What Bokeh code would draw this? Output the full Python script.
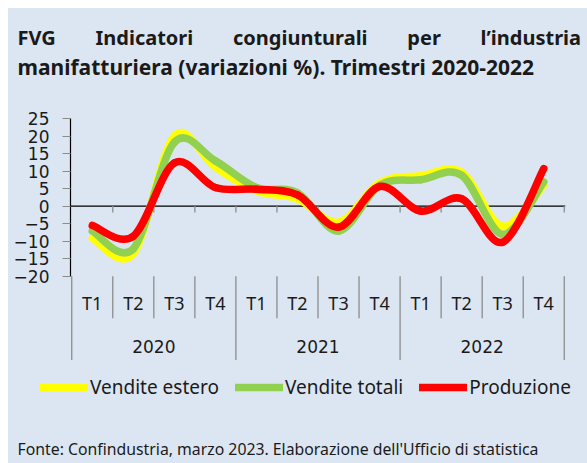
from bokeh.plotting import figure
from bokeh.models import Range1d, FixedTicker, Legend, LegendItem, ColumnDataSource, Span, Spacer
from bokeh.layouts import column, row
from bokeh.embed import file_html
from bokeh.resources import INLINE
from bokeh.core.properties import value

# ---------------- data ----------------
years = ["2020", "2021", "2022"]
quarters = ["T1", "T2", "T3", "T4"]
vendite_estero = [-9.2, -13.6, 20.0, 11.1, 4.3, 2.0, -4.6, 6.6, 8.7, 9.6, -5.8, 5.9]
vendite_totali = [-7.1, -12.2, 18.2, 12.9, 5.3, 3.8, -7.1, 5.9, 7.5, 8.8, -8.1, 6.9]
produzione = [-5.5, -8.6, 12.3, 5.3, 4.8, 3.2, -6.0, 5.6, -1.4, 2.1, -10.3, 10.7]
y_ticks = [-20, -15, -10, -5, 0, 5, 10, 15, 20, 25]
series_names = ["Vendite estero", "Vendite totali", "Produzione"]
series_colors = ["#FFFF00", "#92D050", "#FF0000"]
title_words = ["FVG", "Indicatori", "congiunturali", "per", "l\u2019industria"]
title_line2 = "manifatturiera (variazioni %). Trimestri 2020-2022"
source_text = "Fonte: Confindustria, marzo 2023.  Elaborazione dell'Ufficio di statistica"

BG = "#DCE6F2"
TXT = "#1a1a1a"
W = 579
n = len(years) * len(quarters)
xs = [i + 0.5 for i in range(n)]
Y_CAT_END = -44.06   # bottom of the category axis area
series_values = [vendite_estero, vendite_totali, produzione]


def blank_panel(height, flip=True):
    f = figure(width=W, height=height, output_backend="svg", toolbar_location=None,
               x_range=Range1d(0, W), y_range=Range1d(height, 0) if flip else Range1d(0, height),
               x_axis_type=None, y_axis_type=None,
               min_border=0, background_fill_color=BG, border_fill_color=BG, outline_line_color=None)
    f.grid.visible = False
    f.frame_align = False
    return f


# ---------------- title panel ----------------
p0 = blank_panel(100)
gap = " " + "\u00a0" * 6 + "\u2009"
p0.text(x=[9], y=[29], text=[gap.join(title_words)], text_font=value("Noto Sans"),
        text_font_size="20px", text_font_style="bold", text_color=TXT, text_baseline="middle")
p0.text(x=[9], y=[58], text=[title_line2], text_font=value("Noto Sans"),
        text_font_size="21px", text_font_style="bold", text_color=TXT, text_baseline="middle")

# ---------------- chart ----------------
p = figure(width=W, height=252, output_backend="svg", toolbar_location=None,
           x_range=Range1d(-0.03, n + 0.03), y_range=Range1d(Y_CAT_END, 25),
           min_border_left=62, min_border_right=22, min_border_top=10, min_border_bottom=0,
           background_fill_color=BG, border_fill_color=BG, outline_line_color=None)
p.frame_align = False
p.grid.visible = False
p.xaxis.visible = False

ya = p.yaxis[0]
ya.ticker = FixedTicker(ticks=y_ticks)
ya.bounds = (y_ticks[0], y_ticks[-1])
ya.axis_line_color = "black"
ya.axis_line_width = 1.2
ya.major_tick_line_color = "#8c8c8c"
ya.major_tick_out = 8
ya.major_tick_in = 0
ya.minor_tick_line_color = None
ya.major_label_text_font = "DejaVu Sans"
ya.major_label_text_font_size = "17px"
ya.major_label_text_color = TXT
ya.major_label_standoff = 13

# zero line with tick marks at category boundaries
p.add_layout(Span(location=0, dimension="width", line_color="black", line_width=1.3, level="underlay"))
bounds_all = list(range(1, n + 1))
p.segment(x0=bounds_all, y0=[0] * len(bounds_all), x1=bounds_all, y1=[-1.8] * len(bounds_all),
          line_color="#8c8c8c", line_width=1.3)

# two-level category axis below the plotting area
y_low = y_ticks[0]
q_sep = [i for i in range(1, n) if i % len(quarters) != 0]
y_sep = [i * len(quarters) for i in range(len(years) + 1)]
p.segment(x0=q_sep, y0=[y_low] * len(q_sep), x1=q_sep, y1=[-32] * len(q_sep),
          line_color="#8c8c8c", line_width=1.3)
p.segment(x0=y_sep, y0=[y_low] * len(y_sep), x1=y_sep, y1=[Y_CAT_END] * len(y_sep),
          line_color="#8c8c8c", line_width=1.3)
p.text(x=xs, y=[-27.7] * n, text=quarters * len(years), text_font=value("Noto Sans"),
       text_font_size="18px", text_align="center", text_baseline="middle", text_color=TXT)
p.text(x=[len(quarters) * (i + 0.5) for i in range(len(years))], y=[-40.2] * len(years), text=years,
       text_font=value("DejaVu Sans"), text_font_size="17px", text_align="center",
       text_baseline="middle", text_color=TXT)


def bezier_data(xv, yv, t=1.0 / 6.0):
    m = len(xv)

    def pt(j):
        j = min(max(j, 0), m - 1)
        return xv[j], yv[j]
    d = {k: [] for k in ["x0", "y0", "x1", "y1", "cx0", "cy0", "cx1", "cy1"]}
    for i in range(m - 1):
        pm, p0_, p1, p2_ = pt(i - 1), pt(i), pt(i + 1), pt(i + 2)
        d["x0"].append(p0_[0]); d["y0"].append(p0_[1])
        d["x1"].append(p1[0]); d["y1"].append(p1[1])
        d["cx0"].append(p0_[0] + (p1[0] - pm[0]) * t); d["cy0"].append(p0_[1] + (p1[1] - pm[1]) * t)
        d["cx1"].append(p1[0] - (p2_[0] - p0_[0]) * t); d["cy1"].append(p1[1] - (p2_[1] - p0_[1]) * t)
    return ColumnDataSource(d)


for vals, col in zip(series_values, series_colors):
    p.bezier(x0="x0", y0="y0", x1="x1", y1="y1", cx0="cx0", cy0="cy0", cx1="cx1", cy1="cy1",
             source=bezier_data(xs, vals), line_color=col, line_width=7.5, line_cap="round")

# ---------------- legend + source panel ----------------
p2 = blank_panel(103, flip=False)
items = []
for name, vals, col in zip(series_names, series_values, series_colors):
    # single-point proxy (draws nothing itself) so that the legend can show the line swatch
    r = p2.line(x=[xs[0]], y=[vals[0]], line_color=col, line_width=7.5, line_cap="round")
    items.append(LegendItem(label=name, renderers=[r]))
legend = Legend(items=items, orientation="horizontal", location=(32, 63),
                background_fill_alpha=0, border_line_color=None,
                label_text_font="Noto Sans", label_text_font_size="19px", label_text_color=TXT,
                glyph_width=48, glyph_height=24, label_standoff=2, spacing=16, padding=0, margin=0)
p2.add_layout(legend, "center")
p2.text(x=[9], y=[15], text=[source_text], text_font=value("Noto Sans"), text_font_size="15.8px",
        text_color=TXT, text_baseline="alphabetic")

layout = column(Spacer(height=8),
                row(Spacer(width=8), column(p0, p, p2, styles={"background-color": BG})))
open("out.html", "w").write(file_html(layout, INLINE))
